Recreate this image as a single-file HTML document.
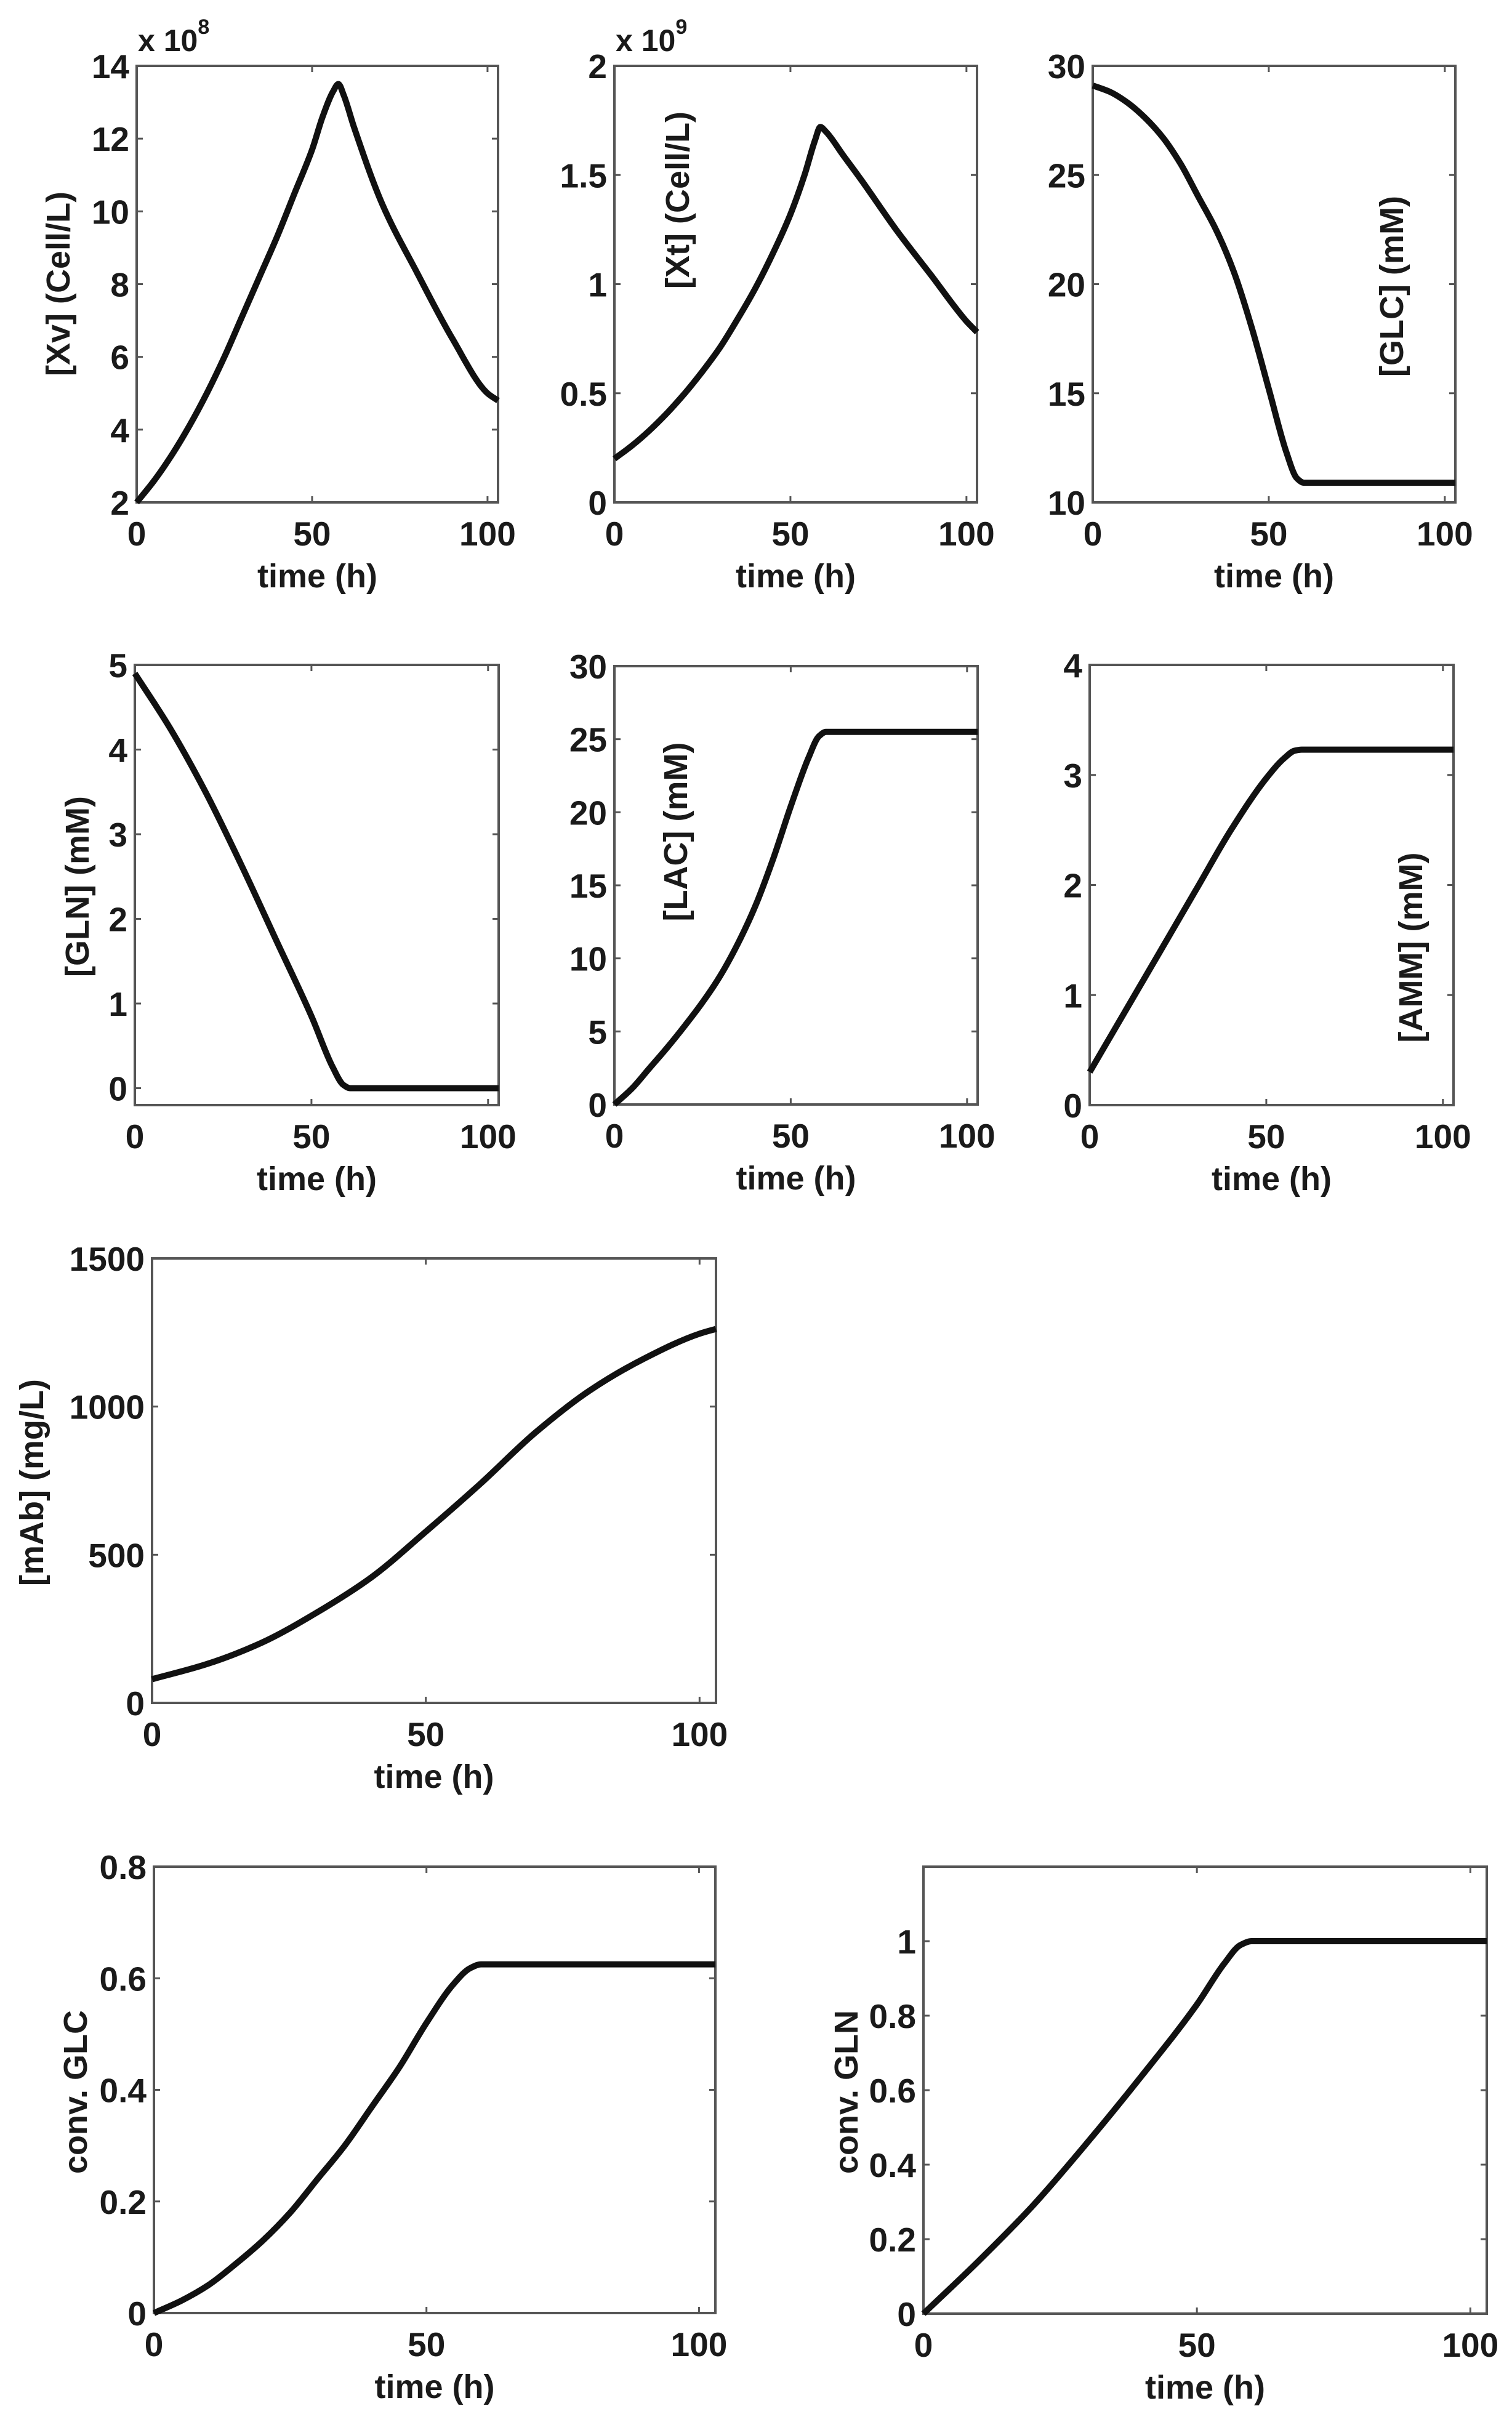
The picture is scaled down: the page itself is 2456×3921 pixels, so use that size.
<!DOCTYPE html>
<html><head><meta charset="utf-8">
<style>
html,body{margin:0;padding:0;background:#fff;}
svg{display:block;}
text{font-family:"Liberation Sans",Arial,sans-serif;font-weight:bold;fill:#1a1a1a;}
</style></head>
<body>
<svg id="fig" width="2456" height="3921" viewBox="0 0 2456 3921" xmlns="http://www.w3.org/2000/svg"></svg>
<script>
// ---- data ----
const timeXv  = [0,5,10,15,20,25,30,35,40,45,50,53,56,57.5,59,62,70,80,90,100,103];
const valXv   = [2.0,2.6,3.3,4.1,5.0,6.0,7.1,8.2,9.3,10.5,11.7,12.6,13.3,13.5,13.2,12.3,10.2,8.3,6.5,5.0,4.8];
const timeXt  = [0,5,10,15,20,25,30,35,40,45,50,54,57,58.5,60,65,70,80,90,100,103];
const valXt   = [0.2,0.26,0.33,0.41,0.5,0.6,0.71,0.84,0.98,1.14,1.32,1.5,1.66,1.72,1.70,1.59,1.48,1.25,1.04,0.83,0.78];
const timeGlc = [0,5,10,15,20,25,30,35,40,45,50,55,58,60,70,103];
const valGlc  = [29.1,28.8,28.3,27.6,26.7,25.5,24.0,22.5,20.6,18.1,15.2,12.3,11.1,10.9,10.9,10.9];
const timeGln = [0,10,20,30,40,50,56,59,61,70,103];
const valGln  = [4.9,4.25,3.5,2.65,1.75,0.85,0.25,0.04,0.0,0.0,0.0];
const timeLac = [0,5,10,15,20,25,30,35,40,45,50,55,58,60,70,103];
const valLac  = [0,1.1,2.5,3.9,5.4,7.0,8.8,11.0,13.6,16.8,20.4,23.7,25.2,25.5,25.5,25.5];
const timeAmm = [0,10,20,30,40,50,55,58,60,70,103];
const valAmm  = [0.3,0.85,1.4,1.95,2.5,2.97,3.15,3.22,3.23,3.23,3.23];
const timeMab = [0,10,20,30,40,50,60,70,80,90,100,103];
const valMab  = [80,131,203,304,423,578,740,912,1055,1163,1246,1262];
const timeCglc= [0,5,10,15,20,25,30,35,40,45,50,55,58,60,70,103];
const valCglc = [0,0.022,0.05,0.088,0.13,0.18,0.24,0.30,0.37,0.44,0.52,0.59,0.618,0.625,0.625,0.625];
const timeCgln= [0,10,20,30,40,50,55,58,60,70,103];
const valCgln = [0,0.14,0.29,0.46,0.64,0.83,0.94,0.99,1.0,1.0,1.0];
const xTicks  = [0,50,100];
const ticksXv = [2,4,6,8,10,12,14];
const ticksXt = [0,0.5,1,1.5,2];
const ticksGlc= [10,15,20,25,30];
const ticksGln= [0,1,2,3,4,5];
const ticksLac= [0,5,10,15,20,25,30];
const ticksAmm= [0,1,2,3,4];
const ticksMab= [0,500,1000,1500];
const ticksCglc=[0,0.2,0.4,0.6,0.8];
const ticksCgln=[0,0.2,0.4,0.6,0.8,1];

const NS="http://www.w3.org/2000/svg";
const svg=document.getElementById('fig');
function mk(tag,attrs,parent){const e=document.createElementNS(NS,tag);for(const k in attrs)e.setAttribute(k,attrs[k]);(parent||svg).appendChild(e);return e;}

const panels=[
 {id:'xv',L:222,R:809,T:107,B:816,ymin:2,ymax:14,t:timeXv,v:valXv,ticks:ticksXv,label:'[Xv] (Cell/L)',lx:94,ly:461,exp:'8'},
 {id:'xt',L:998,R:1587,T:107,B:816,ymin:0,ymax:2,t:timeXt,v:valXt,ticks:ticksXt,label:'[Xt] (Cell/L)',lx:1100,ly:325,exp:'9'},
 {id:'glc',L:1775,R:2364,T:107,B:816,ymin:10,ymax:30,t:timeGlc,v:valGlc,ticks:ticksGlc,label:'[GLC] (mM)',lx:2260,ly:465},
 {id:'gln',L:219,R:810,T:1080,B:1795,ymin:-0.2,ymax:5,t:timeGln,v:valGln,ticks:ticksGln,label:'[GLN] (mM)',lx:125,ly:1440},
 {id:'lac',L:998,R:1588,T:1082,B:1794,ymin:0,ymax:30,t:timeLac,v:valLac,ticks:ticksLac,label:'[LAC] (mM)',lx:1097,ly:1351},
 {id:'amm',L:1770,R:2361,T:1080,B:1795,ymin:0,ymax:4,t:timeAmm,v:valAmm,ticks:ticksAmm,label:'[AMM] (mM)',lx:2291,ly:1539},
 {id:'mab',L:247,R:1163,T:2044,B:2766,ymin:0,ymax:1500,t:timeMab,v:valMab,ticks:ticksMab,label:'[mAb] (mg/L)',lx:51,ly:2408},
 {id:'conv-glc',L:250,R:1162,T:3032,B:3757,ymin:0,ymax:0.8,t:timeCglc,v:valCglc,ticks:ticksCglc,label:'conv. GLC',lx:122,ly:3398},
 {id:'conv-gln',L:1500,R:2415,T:3032,B:3758,ymin:0,ymax:1.2,t:timeCgln,v:valCgln,ticks:ticksCgln,label:'conv. GLN',lx:1374,ly:3398}
];
const XMAX=103;

// monotone cubic (Fritsch-Carlson) path
function monoPath(pts){
  const n=pts.length, dx=[], dy=[], m=[], s=[];
  for(let i=0;i<n-1;i++){dx[i]=pts[i+1][0]-pts[i][0];dy[i]=pts[i+1][1]-pts[i][1];s[i]=dy[i]/dx[i];}
  m[0]=s[0];m[n-1]=s[n-2];
  for(let i=1;i<n-1;i++){
    if(s[i-1]*s[i]<=0)m[i]=0;
    else{const w1=2*dx[i]+dx[i-1],w2=dx[i]+2*dx[i-1];m[i]=(w1+w2)/(w1/s[i-1]+w2/s[i]);}
  }
  let d='M'+pts[0][0].toFixed(1)+','+pts[0][1].toFixed(1);
  for(let i=0;i<n-1;i++){
    const h=dx[i]/3;
    d+=' C'+(pts[i][0]+h).toFixed(1)+','+(pts[i][1]+m[i]*h).toFixed(1)+' '+(pts[i+1][0]-h).toFixed(1)+','+(pts[i+1][1]-m[i+1]*h).toFixed(1)+' '+pts[i+1][0].toFixed(1)+','+pts[i+1][1].toFixed(1);
  }
  return d;
}

panels.forEach(p=>{
  const g=mk('g',{});
  
  
  const sx=x=>p.L+(x/XMAX)*(p.R-p.L);
  const sy=y=>p.B-(y-p.ymin)/(p.ymax-p.ymin)*(p.B-p.T);
  const box=mk('rect',{x:p.L,y:p.T,width:p.R-p.L,height:p.B-p.T,fill:'none',stroke:'#555',"stroke-width":4},g);
  
  
  const tl=10;
  xTicks.forEach(t=>{
    const x=sx(t);
    mk('line',{x1:x,y1:p.B,x2:x,y2:p.B-tl,stroke:'#555',"stroke-width":3},g);
    mk('line',{x1:x,y1:p.T,x2:x,y2:p.T+tl,stroke:'#555',"stroke-width":3},g);
    const tx=mk('text',{x:x,y:p.B+70,"font-size":55,"text-anchor":"middle"},g);
    tx.textContent=t;
    
    
  });
  p.ticks.forEach(t=>{
    const y=sy(t);
    mk('line',{x1:p.L,y1:y,x2:p.L+tl,y2:y,stroke:'#555',"stroke-width":3},g);
    mk('line',{x1:p.R,y1:y,x2:p.R-tl,y2:y,stroke:'#555',"stroke-width":3},g);
    const tx=mk('text',{x:p.L-12,y:y+20,"font-size":55,"text-anchor":"end"},g);
    tx.textContent=t;
    
    
  });
  const pts=p.t.map((t,i)=>[sx(t),sy(p.v[i])]);
  const path=mk('path',{d:monoPath(pts),fill:'none',stroke:'#111',"stroke-width":10,"stroke-linejoin":"round"},g);
  
  
  const xl=mk('text',{x:(p.L+p.R)/2,y:p.B+138,"font-size":54,"text-anchor":"middle"},g);
  xl.textContent='time (h)';
  
  
  const yl=mk('text',{x:p.lx,y:p.ly,"font-size":54,"text-anchor":"middle",transform:'rotate(-90 '+p.lx+' '+p.ly+')',dy:19},g);
  yl.textContent=p.label;
  
  
  if(p.exp){
    const ex=mk('text',{x:p.L+2,y:p.T-24,"font-size":50},g);
    ex.textContent='x 10';
    const sup=mk('tspan',{"font-size":34,dy:-28},ex);
    sup.textContent=p.exp;
    
    
  }
});
</script>
</body></html>
